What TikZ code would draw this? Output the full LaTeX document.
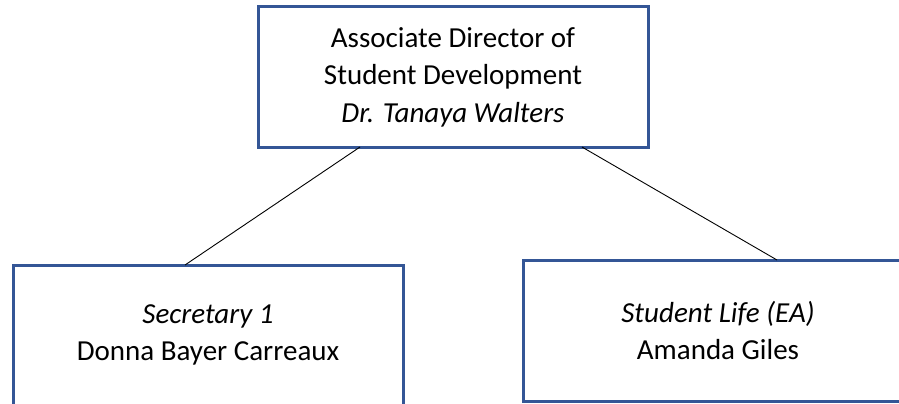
\documentclass[tikz,border=0pt]{standalone}
\usepackage{fontspec}
\setmainfont{Carlito}
\definecolor{boxblue}{RGB}{52,86,150}
\begin{document}
\begin{tikzpicture}[x=1pt,y=-1pt,
  orgbox/.style={draw=boxblue, line width=3pt, fill=white, minimum width=390pt, minimum height=140pt, align=center, inner sep=0pt, outer sep=0pt, font={\fontsize{29}{37.5}\selectfont}},
  link/.style={draw=black, line width=0.9pt}]
\useasboundingbox (0,0) rectangle (899,404);
\clip (0,0) rectangle (899,404);
\fill[white] (0,0) rectangle (899,404);
\node[orgbox] (top) at (453,77) {Associate Director of\\Student Development\\\textit{Dr. Tanaya Walters}};
\node[orgbox] (left) at (208,335) {\textit{Secretary 1}\\Donna Bayer Carreaux};
\node[orgbox, minimum height=141pt] (right) at (718,330.5) {\textit{Student Life (EA)}\\Amanda Giles};
\draw[link] ([xshift=102pt]top.south west) -- ([xshift=172pt]left.north west);
\draw[link] ([xshift=324pt]top.south west) -- ([xshift=254pt]right.north west);
\end{tikzpicture}
\end{document}
